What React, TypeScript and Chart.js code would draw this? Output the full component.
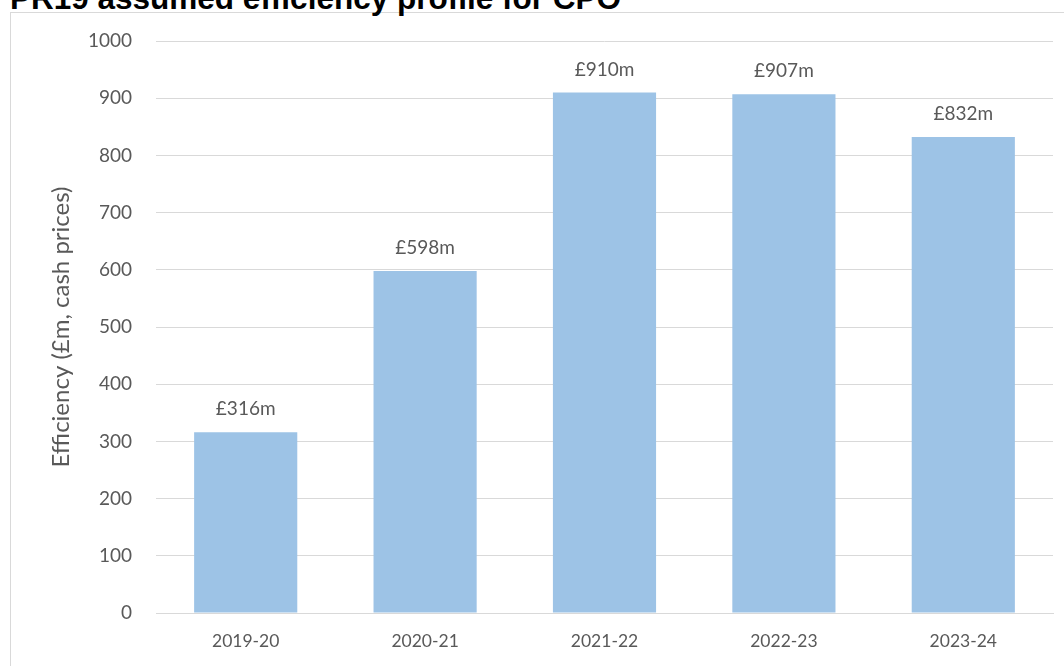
import React, { useEffect, useRef } from "react";
import { Chart, registerables } from "chart.js";

Chart.register(...registerables);

const TITLE = "PR19 assumed efficiency profile for CPO";
const Y_TITLE = "Efficiency (£m, cash prices)";
const categories = ["2019-20", "2020-21", "2021-22", "2022-23", "2023-24"];
const values = [316, 598, 910, 907, 832];
const valueLabels = ["£316m", "£598m", "£910m", "£907m", "£832m"];

const FONT = "Lato, 'Open Sans', sans-serif";
const TEXT = "#595959";

const labelPlugin = {
  id: "barLabels",
  afterDatasetsDraw(chart: any) {
    const ctx = chart.ctx;
    const meta = chart.getDatasetMeta(0);
    ctx.save();
    ctx.font = `19px ${FONT}`;
    ctx.fillStyle = TEXT;
    ctx.textAlign = "center";
    ctx.textBaseline = "middle";
    meta.data.forEach((bar: any, i: number) => {
      ctx.fillText(valueLabels[i], bar.x, bar.y - 23);
    });
    ctx.restore();
  },
};

export default function App() {
  const ref = useRef<HTMLCanvasElement>(null);
  useEffect(() => {
    if (!ref.current) return;
    const chart = new Chart(ref.current, {
      type: "bar",
      data: {
        labels: categories,
        datasets: [
          {
            data: values,
            backgroundColor: "#9DC3E6",
            borderWidth: 0,
            categoryPercentage: 1,
            barPercentage: 0.575,
          },
        ],
      },
      options: {
        animation: false,
        responsive: false,
        maintainAspectRatio: false,
        layout: { padding: { left: 0, top: 41, right: 11, bottom: 0 } },
        plugins: {
          legend: { display: false },
          tooltip: { enabled: false },
          title: { display: false },
        },
        scales: {
          x: {
            grid: { display: false, drawTicks: false },
            border: { display: true, color: "#D9D9D9", width: 1 },
            ticks: { color: TEXT, font: { family: FONT, size: 17.5 }, padding: 18 },
            afterFit: (s: any) => {
              s.height = 53;
            },
          },
          y: {
            min: 0,
            max: 1000,
            ticks: {
              stepSize: 100,
              color: TEXT,
              font: { family: FONT, size: 19 },
              padding: 24,
              callback: (v: any) => String(v),
            },
            grid: { color: "#D9D9D9", drawTicks: false, lineWidth: 1 },
            border: { display: false },
            title: {
              display: true,
              text: Y_TITLE,
              color: TEXT,
              font: { family: FONT, size: 24 },
              padding: { top: 47, bottom: 0 },
            },
            afterFit: (s: any) => {
              s.width = 156;
            },
          },
        },
      },
      plugins: [labelPlugin],
    });
    return () => chart.destroy();
  }, []);

  return (
    <div
      style={{
        position: "fixed",
        left: 0,
        top: 0,
        width: 1064,
        height: 666,
        overflow: "hidden",
        background: "#fff",
      }}
    >
      <div
        style={{
          position: "absolute",
          left: 10,
          top: 12,
          width: 2000,
          height: 2000,
          border: "1px solid #D9D9D9",
        }}
      />
      <div
        style={{
          position: "absolute",
          left: 10,
          top: -20,
          whiteSpace: "nowrap",
          fontFamily: "'Liberation Sans', Arial, sans-serif",
          fontWeight: "bold",
          fontSize: 31.5,
          color: "#000",
        }}
      >
        {TITLE}
      </div>
      <canvas
        ref={ref}
        width={1064}
        height={666}
        style={{ position: "absolute", left: 0, top: 0, width: 1064, height: 666 }}
      />
    </div>
  );
}
